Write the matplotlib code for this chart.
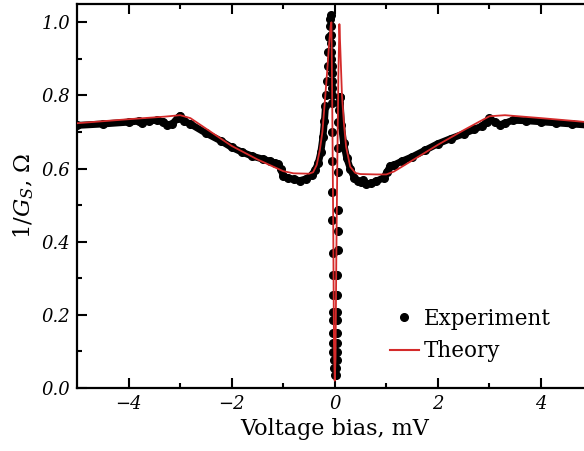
import numpy as np
import matplotlib.pyplot as plt
from matplotlib.lines import Line2D

plt.rcParams['font.family'] = ['DejaVu Serif']
plt.rcParams['mathtext.fontset'] = 'dejavuserif'

# experiment, broad part left of the zero-bias spike (mV, Ohm)
exp_left_v = [-5.0, -4.5, -4.0, -3.8, -3.73, -3.6, -3.45, -3.33, -3.25, -3.15, -3.05, -3.0, -2.93,
              -2.8, -2.5, -2.2, -2.0, -1.8, -1.6, -1.4, -1.25, -1.15, -1.1, -1.05, -1.0, -0.9,
              -0.8, -0.68, -0.55, -0.45, -0.38, -0.32, -0.27, -0.23, -0.2, -0.18]
exp_left_g = [0.718, 0.722, 0.727, 0.730, 0.725, 0.731, 0.732, 0.728, 0.720, 0.722, 0.738, 0.745, 0.730,
              0.722, 0.697, 0.675, 0.658, 0.645, 0.634, 0.626, 0.620, 0.614, 0.612, 0.600, 0.580, 0.574,
              0.571, 0.567, 0.572, 0.582, 0.596, 0.615, 0.645, 0.685, 0.73, 0.77]

# experiment, sparse points around zero bias
exp_spike_v = [-0.165, -0.15, -0.14, -0.125, -0.11, -0.098, -0.088, -0.082,
               -0.075, -0.07, -0.068, -0.066, -0.064, -0.062, -0.06, -0.058, -0.056, -0.054,
               -0.052, -0.05, -0.048, -0.046, -0.044, -0.042, -0.04, -0.038, -0.036, -0.034,
               -0.032, -0.03, -0.026, -0.02, -0.012, 0.0,
               0.015, 0.03, 0.036, 0.04, 0.042, 0.044, 0.046, 0.048, 0.05, 0.052, 0.054,
               0.056, 0.058, 0.06, 0.064, 0.07, 0.08, 0.09, 0.1]
exp_spike_g = [0.80, 0.84, 0.88, 0.92, 0.96, 0.99, 1.008, 1.02,
               0.99, 0.965, 0.943, 0.92, 0.90, 0.88, 0.86, 0.84, 0.82, 0.80,
               0.78, 0.70, 0.62, 0.535, 0.46, 0.37, 0.31, 0.254, 0.208, 0.186,
               0.15, 0.123, 0.098, 0.077, 0.055, 0.036,
               0.036, 0.055, 0.077, 0.098, 0.123, 0.15, 0.186, 0.208, 0.254, 0.31, 0.377,
               0.43, 0.486, 0.59, 0.656, 0.727, 0.76, 0.78, 0.795]

# experiment, broad part right of the spike
exp_right_v = [0.1, 0.13, 0.17, 0.23, 0.3, 0.38, 0.45, 0.5, 0.54, 0.6, 0.7, 0.8, 0.95, 1.02,
               1.08, 1.15, 1.3, 1.5, 1.75, 2.0, 2.25, 2.5, 2.7, 2.85, 2.95, 3.0, 3.1, 3.2,
               3.3, 3.45, 3.7, 4.0, 4.3, 4.6, 4.9]
exp_right_g = [0.795, 0.72, 0.67, 0.63, 0.60, 0.575, 0.565, 0.562, 0.568, 0.558, 0.560, 0.565, 0.575, 0.592,
               0.608, 0.610, 0.620, 0.632, 0.650, 0.668, 0.682, 0.695, 0.707, 0.716, 0.728, 0.737, 0.728, 0.720,
               0.724, 0.732, 0.731, 0.728, 0.725, 0.722, 0.719]

# theory curve
th_v = [-5.0, -4.0, -3.3, -3.0, -2.8, -2.4, -2.0, -1.5, -1.0, -0.8, -0.5, -0.42, -0.35, -0.29,
        -0.24, -0.19, -0.15, -0.11, -0.08, -0.065, -0.05, -0.03, -0.015, 0.0, 0.015, 0.03,
        0.05, 0.07, 0.09, 0.11, 0.14, 0.18, 0.22, 0.3, 0.4, 0.5, 0.8, 1.0, 1.15, 1.5, 2.0,
        2.5, 2.8, 3.0, 3.3, 4.0, 4.9]
th_g = [0.724, 0.735, 0.742, 0.746, 0.738, 0.70, 0.662, 0.625, 0.593, 0.587, 0.586, 0.590, 0.610, 0.65,
        0.70, 0.787, 0.86, 0.94, 0.99, 1.0, 0.80, 0.45, 0.12, 0.02, 0.08, 0.35,
        0.62, 0.85, 0.995, 0.92, 0.80, 0.72, 0.66, 0.605, 0.588, 0.585, 0.584, 0.584, 0.592, 0.622, 0.665,
        0.705, 0.728, 0.743, 0.746, 0.738, 0.727]

red = '#d42a2a'

fig = plt.figure(figsize=(5.84, 4.51), dpi=100)
ax = fig.add_axes([0.1318, 0.1397, 0.8828, 0.8514])

ax.plot(exp_left_v, exp_left_g, color='k', lw=5, solid_capstyle='round', zorder=2)
ax.plot(exp_right_v, exp_right_g, color='k', lw=5, solid_capstyle='round', zorder=2)
ax.plot(exp_left_v + exp_spike_v + exp_right_v, exp_left_g + exp_spike_g + exp_right_g,
        'o', color='k', ms=5.5, zorder=2)
ax.plot(th_v, th_g, color=red, lw=1.3, zorder=3)

ax.set_xlim(-5, 5)
ax.set_ylim(0, 1.05)
ax.set_xticks([-4, -2, 0, 2, 4])
ax.set_xticks([-3, -1, 1, 3], minor=True)
ax.set_yticks([0.0, 0.2, 0.4, 0.6, 0.8, 1.0])
ax.set_yticks([0.1, 0.3, 0.5, 0.7, 0.9], minor=True)
ax.set_yticklabels(['0.0', '0.2', '0.4', '0.6', '0.8', '1.0'])
ax.tick_params(which='both', direction='in', top=True, right=False, width=1.5,
               labelsize=13, pad=5)
ax.tick_params(which='major', length=7)
ax.tick_params(which='minor', length=3.5)
for lab in ax.get_xticklabels() + ax.get_yticklabels():
    lab.set_fontstyle('italic')
for sp in ax.spines.values():
    sp.set_linewidth(1.6)

ax.set_xlabel('Voltage bias, mV', fontsize=16, labelpad=4)
ax.set_ylabel(r'1/$G_S$, Ω', fontsize=16.5, labelpad=4)

handles = [Line2D([], [], marker='o', ls='none', color='k', ms=5.5),
           Line2D([], [], color=red, lw=1.5)]
fig.legend(handles, ['Experiment', 'Theory'], loc='center left',
           bbox_to_anchor=(381 / 584, 1 - 335 / 451), frameon=False, fontsize=15.5,
           handlelength=1.35, handletextpad=0.25, labelspacing=0.5, borderaxespad=0)

fig.savefig('out.png', dpi=100)
